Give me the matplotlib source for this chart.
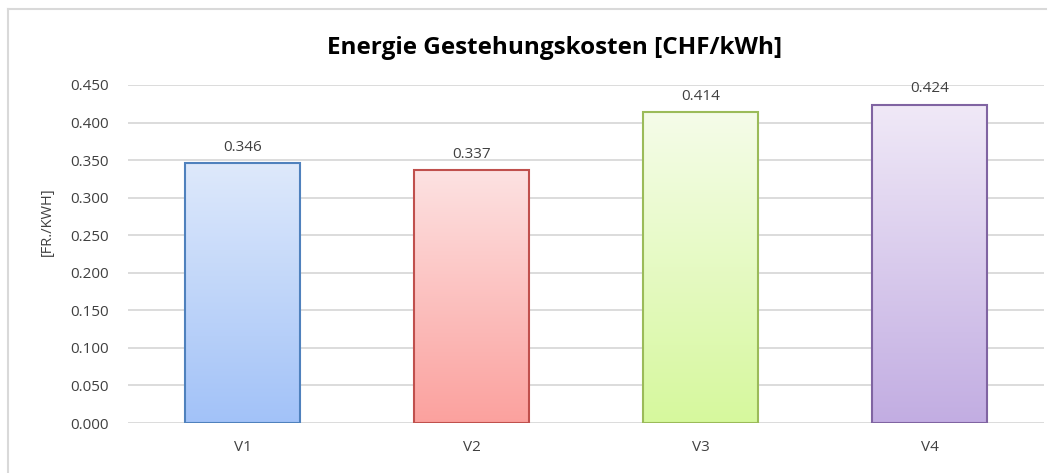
import matplotlib.pyplot as plt
import matplotlib.colors as mcolors
import numpy as np

plt.rcParams['font.family'] = ['Open Sans', 'DejaVu Sans']

labels = ['V1', 'V2', 'V3', 'V4']
values = [0.346, 0.337, 0.414, 0.424]
tops = ['#dee9fb', '#fde2e2', '#f5fce9', '#f0e9f7']
bottoms = ['#a2c2f8', '#fba19e', '#d6f89d', '#c2ade2']
edges = ['#4f81bd', '#c0504d', '#9bbb59', '#8064a2']

fig = plt.figure(figsize=(10.54, 4.73), dpi=100)
ax = fig.add_axes([0.1214, 0.1057, 0.8691, 0.7146])

x = np.arange(len(labels))
bars = ax.bar(x, values, width=0.5, color='none', edgecolor='none', zorder=3)

grad = np.linspace(1, 0, 256).reshape(-1, 1)
for b, t, bt, e in zip(bars, tops, bottoms, edges):
    cmap = mcolors.LinearSegmentedColormap.from_list('g', [bt, t])
    x0, y0 = b.get_x(), b.get_y()
    w, h = b.get_width(), b.get_height()
    im = ax.imshow(grad, cmap=cmap, aspect='auto', origin='upper',
                   extent=[x0, x0 + w, y0, y0 + h], zorder=3, vmin=0, vmax=1)
    im.set_clip_path(b)
    ax.add_patch(plt.Rectangle((x0, y0), w, h, fill=False, edgecolor=e, lw=1.5, zorder=4))

for xi, v in zip(x, values):
    ax.annotate(f'{v:.3f}', (xi, v), xytext=(0, 6), textcoords='offset points',
                ha='center', va='bottom', fontsize=11, color='#404040')

ax.set_xlim(-0.5, 3.5)
ax.set_ylim(0, 0.45)
ax.set_yticks(np.arange(0, 0.451, 0.05))
ax.set_yticklabels([f'{t:.3f}' for t in np.arange(0, 0.451, 0.05)])
ax.set_xticks(x)
ax.set_xticklabels(labels)
ax.tick_params(axis='both', length=0, labelsize=11, colors='#404040')
ax.tick_params(axis='x', pad=12)
ax.tick_params(axis='y', pad=14)
ax.grid(axis='y', color='#d9d9d9', lw=1.3, zorder=0)
ax.set_axisbelow(True)
for s in ax.spines.values():
    s.set_visible(False)

fig.text(0.0445, 0.531, '[FR./KWH]', rotation=90, ha='center', va='center',
         fontsize=10.5, color='#404040')
fig.text(0.526, 0.898, 'Energie Gestehungskosten [CHF/kWh]', ha='center', va='center',
         fontsize=17.5, fontweight='bold', color='black')

# chart border
fig.add_artist(plt.Line2D([0.0076, 0.0076], [0.0, 0.981], color='#d9d9d9', lw=1.5))
fig.add_artist(plt.Line2D([0.0076, 0.992], [0.981, 0.981], color='#d9d9d9', lw=1.5))

fig.savefig('out.png', dpi=100)
